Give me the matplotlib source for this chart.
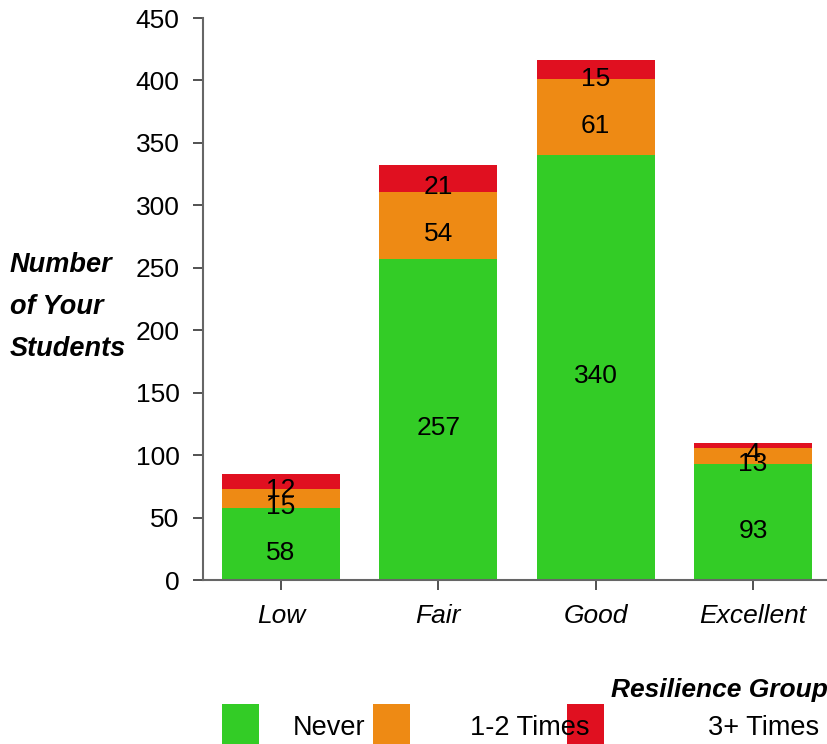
import matplotlib
matplotlib.use("Agg")
import matplotlib.pyplot as plt
from matplotlib.patches import Rectangle

plt.rcParams['font.family'] = ['Liberation Sans', 'DejaVu Sans']

categories = ["Low", "Fair", "Good", "Excellent"]
never = [58, 257, 340, 93]
once_twice = [15, 54, 61, 13]
three_plus = [12, 21, 15, 4]
series_names = ["Never", "1-2 Times", "3+ Times"]
colors = ["#33cc26", "#ee8a14", "#e01020"]
y_ticks = [0, 50, 100, 150, 200, 250, 300, 350, 400, 450]

W, H = 828, 744
fig = plt.figure(figsize=(W / 100, H / 100), dpi=100)
ax = fig.add_axes([203 / W, (H - 580) / H, 625 / W, 562 / H])

x = list(range(len(categories)))
bottom = [0] * len(categories)
for vals, col in zip([never, once_twice, three_plus], colors):
    ax.bar(x, vals, width=0.75, bottom=bottom, color=col, linewidth=0)
    for xi, v, b in zip(x, vals, bottom):
        ax.text(xi, b + v / 2 - 7, str(v), ha="center", va="center",
                fontsize=19, color="black")
    bottom = [b + v for b, v in zip(bottom, vals)]

ax.set_xlim(-0.495, 3.476)
ax.set_ylim(0, 450)
ax.set_yticks(y_ticks)
ax.set_xticks(x)
ax.set_xticklabels(categories, fontstyle="italic", fontsize=19)
ax.tick_params(axis="y", labelsize=19, length=7, width=1.2, color="#333333", pad=10)
ax.tick_params(axis="x", length=7, width=1.2, color="#333333", pad=10)
for s in ["top", "right"]:
    ax.spines[s].set_visible(False)
for s in ["left", "bottom"]:
    ax.spines[s].set_color("#666666")
    ax.spines[s].set_linewidth(1.5)

# Y-axis title, three lines
for i, line in enumerate(["Number", "of Your", "Students"]):
    fig.text(10 / W, 1 - (265 + 42 * i) / H, line, ha="left", va="center",
             fontsize=19.5, fontweight="bold", fontstyle="italic")

# Legend title and entries
fig.text(828 / W, 1 - 690 / H, "Resilience Group", ha="right", va="center",
         fontsize=19, fontweight="bold", fontstyle="italic")
box_x = [222, 373, 567]
text_x = [293, 470, 708]
for bx, tx, name, col in zip(box_x, text_x, series_names, colors):
    fig.add_artist(Rectangle((bx / W, 1 - 744 / H), 37 / W, 40 / H,
                             transform=fig.transFigure, color=col, lw=0))
    fig.text(tx / W, 1 - 728 / H, name, ha="left", va="center", fontsize=19.5)

fig.savefig("out.png", dpi=100)
